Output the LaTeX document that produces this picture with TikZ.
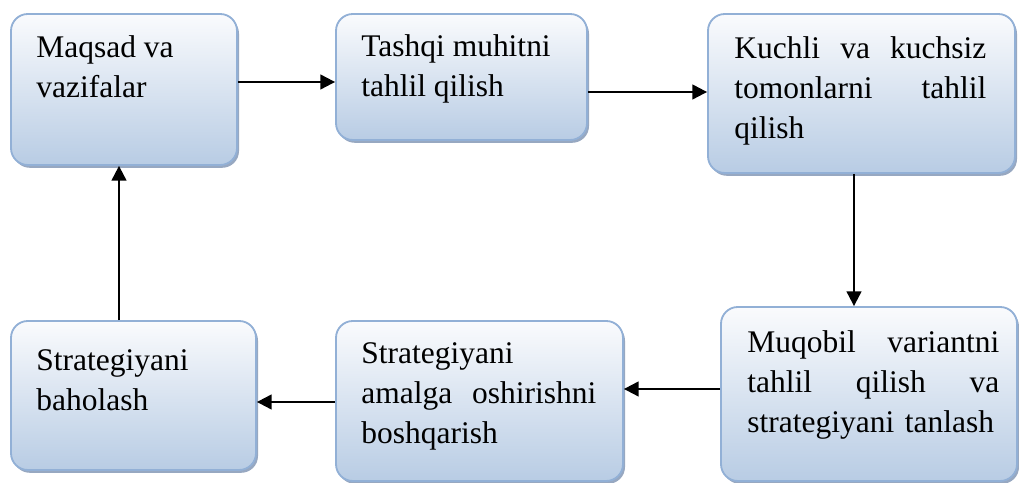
\documentclass[tikz,border=0pt]{standalone}
\usepackage{fontspec}
\setmainfont{LiberationSerif}[Extension=.ttf, UprightFont=*-Regular, BoldFont=*-Bold, ItalicFont=*-Italic, BoldItalicFont=*-BoldItalic]
\usepackage{xcolor}
\usepackage{tikz}
\usetikzlibrary{arrows.meta, positioning, calc, shadows}

\definecolor{boxline}{RGB}{146,176,214}
\definecolor{boxtop}{RGB}{250,251,253}
\definecolor{boxbot}{RGB}{184,204,228}
\definecolor{boxshadow}{RGB}{140,158,186}

\begin{document}
\begin{tikzpicture}[%
  box/.style={draw=boxline, line width=1.3pt, rounded corners=0.42cm, top color=boxtop, bottom color=boxbot,
    drop shadow={shadow xshift=0.05cm, shadow yshift=-0.07cm, fill=boxshadow, opacity=0.9}},
  txt/.style={anchor=north west, inner sep=0pt, align=left, font=\rmfamily\fontsize{22.4pt}{28.4pt}\selectfont},
  arr/.style={-{Triangle[length=0.37cm, width=0.37cm]}, line width=1.5pt}
]
\useasboundingbox (0,0) rectangle (25.475,12.075);

% Top row
\node[box, minimum width=5.65cm, minimum height=3.775cm] (goal) at (3.1,9.8375) {};
\node[box, minimum width=6.275cm, minimum height=3.15cm] (env) at (11.5375,10.15) {};
\node[box, minimum width=7.675cm, minimum height=3.975cm] (swot) at (21.5375,9.7375) {};

% Bottom row
\node[box, minimum width=6.125cm, minimum height=3.725cm] (eval) at (3.3375,2.1875) {};
\node[box, minimum width=7.175cm, minimum height=4.0cm] (impl) at (11.9875,2.05) {};
\node[box, minimum width=7.4cm, minimum height=4.35cm] (choice) at (21.725,2.225) {};

% Texts
\node[txt] (goaltxt) at ([shift={(0.65,-0.55)}]goal.north west) {Maqsad va\\vazifalar};
\node[txt] (envtxt) at ([shift={(0.65,-0.525)}]env.north west) {Tashqi muhitni\\tahlil qilish};
\node[txt, text width=6.3cm] (swottxt) at ([shift={(0.675,-0.575)}]swot.north west)
  {Kuchli\hfill va\hfill kuchsiz\\tomonlarni\hfill tahlil\\qilish};
\node[txt] (evaltxt) at ([shift={(0.65,-0.725)}]eval.north west) {Strategiyani\\baholash};
\node[txt, text width=5.875cm] (impltxt) at ([shift={(0.65,-0.55)}]impl.north west)
  {Strategiyani\\amalga\hfill oshirishni\\boshqarish};
\node[txt, text width=6.3cm] (choicetxt) at ([shift={(0.675,-0.6)}]choice.north west)
  {Muqobil\hfill variantni\\tahlil\hfill qilish\hfill va\\strategiyani tanlash};

% Arrows
\draw[arr] ([yshift=0.1875cm]goal.east) -- ([yshift=0.1875cm]goal.east -| env.west);
\draw[arr] ([yshift=-0.375cm]env.east) -- ([yshift=-0.375cm]env.east -| swot.west);
\draw[arr] ([xshift=-0.1875cm]swot.south) -- ([xshift=-0.1875cm]swot.south |- choice.north);
\draw[arr] ([yshift=0.125cm]choice.west) -- ([yshift=0.125cm]choice.west -| impl.east);
\draw[arr] ([yshift=-0.025cm]impl.west) -- ([yshift=-0.025cm]impl.west -| eval.east);
\draw[arr] ([xshift=-0.3625cm]eval.north) -- ([xshift=-0.3625cm]eval.north |- goal.south);
\end{tikzpicture}
\end{document}
